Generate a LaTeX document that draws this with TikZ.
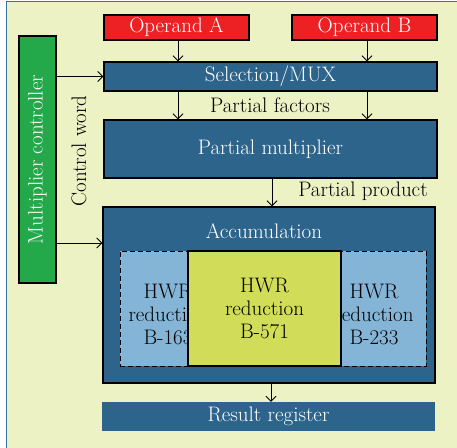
\documentclass[tikz,border=0pt]{standalone}
\usetikzlibrary{arrows.meta}
\definecolor{bgc}{RGB}{237,242,196}
\definecolor{frame}{RGB}{58,111,158}
\definecolor{dblue}{RGB}{45,100,140}
\definecolor{lblue}{RGB}{132,180,214}
\definecolor{ygreen}{RGB}{209,220,88}
\definecolor{gctrl}{RGB}{35,168,74}
\definecolor{rop}{RGB}{237,32,36}
\begin{document}
\begin{tikzpicture}[x=1pt,y=-1pt,
  font=\fontsize{21}{23}\selectfont,
  blk/.style={draw=black,line width=1.4pt,inner sep=0pt,align=center,text=white},
  opbox/.style={blk,fill=rop},
  bluebox/.style={blk,fill=dblue},
  lbl/.style={inner sep=0pt,text=black},
  arr/.style={-{Straight Barb[length=5pt,width=10pt]},line width=0.9pt}]
\useasboundingbox (0,0) rectangle (457,447);
\fill[bgc] (6.5,1.5) rectangle (470,460);
\draw[frame,line width=1.3pt] (6.5,460) -- (6.5,1.5) -- (470,1.5);
% top
\node[opbox,minimum width=145pt,minimum height=25pt] (opA) at (176.5,27.5) {Operand A};
\node[opbox,minimum width=145pt,minimum height=25pt] (opB) at (364.5,27.5) {Operand B};
\node[bluebox,minimum width=333pt,minimum height=29pt] (mux) at (270.5,76.5) {Selection/MUX};
\node[bluebox,minimum width=333pt,minimum height=58pt] (pm) at (270.5,149) {Partial multiplier};
\node[bluebox,minimum width=332pt,minimum height=176pt] (acc) at (269,295) {};
\node[lbl,text=white] (acct) at (264,231) {Accumulation};
\node[draw=black,dash pattern=on 5pt off 3pt,line width=0.9pt,fill=lblue,minimum width=306pt,minimum height=115pt,inner sep=0pt] (dash) at (273,308.5) {};
\node[lbl,align=center] (hl) at (168,314) {HWR\\reduction\\B-163};
\node[lbl,align=center] (hr) at (374,314) {HWR\\reduction\\B-233};
\node[blk,fill=ygreen,text=black,minimum width=153pt,minimum height=115pt] (hc) at (264.5,308.5) {HWR\\reduction\\B-571};
\node[fill=dblue,inner sep=0pt,text=white,minimum width=333pt,minimum height=29pt] (res) at (268.5,416.5) {Result register};
\node[blk,fill=gctrl,minimum width=37pt,minimum height=247pt] (ctrl) at (37.5,159.5) {};
\node[lbl,text=white,rotate=90] (ctrlt) at (37.5,159.5) {Multiplier controller};
\node[lbl,rotate=90] (cw) at (79,151) {Control word};
\node[lbl] (pf) at (270,105) {Partial factors};
\node[lbl] (pp) at (363,191) {Partial product};
% arrows
\coordinate (xa) at (178,0);
\coordinate (xb) at (367,0);
\coordinate (xm) at (272,0);
\draw[arr] (xa |- opA.south) -- (xa |- mux.north);
\draw[arr] (xb |- opB.south) -- (xb |- mux.north);
\draw[arr] (xa |- mux.south) -- (xa |- pm.north);
\draw[arr] (xb |- mux.south) -- (xb |- pm.north);
\draw[arr] (xm |- pm.south) -- (xm |- acc.north);
\draw[arr] (271,0 |- acc.south) -- (271,0 |- res.north);
\draw[arr] (ctrl.east |- mux.west) -- (mux.west);
\coordinate (cacc) at (0,243);
\draw[arr] (ctrl.east |- cacc) -- (acc.west |- cacc);
\end{tikzpicture}
\end{document}
